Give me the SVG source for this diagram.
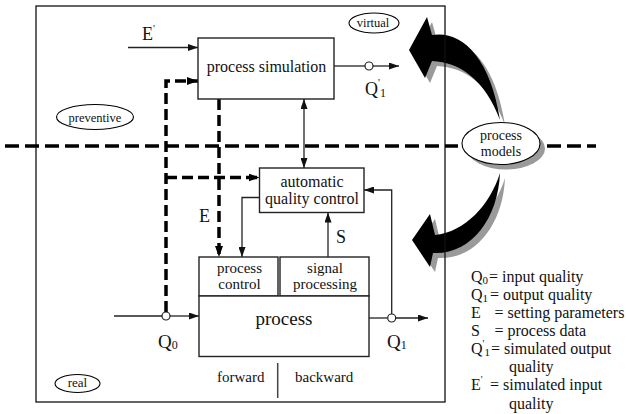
<svg xmlns="http://www.w3.org/2000/svg" width="626" height="414" viewBox="0 0 626 414">
  <defs>
    <style>
      text { font-family: "Liberation Serif", "Times New Roman", serif; fill: #111; }
      .box { fill: #fff; stroke: #222; stroke-width: 1.4; }
      .wire { fill: none; stroke: #222; stroke-width: 1.3; }
      .dash { fill: none; stroke: #000; stroke-width: 3.5; stroke-dasharray: 11 5; }
      .divider { fill: none; stroke: #000; stroke-width: 3.5; stroke-dasharray: 14 6; }
      .tap { fill: #fff; stroke: #222; stroke-width: 1.2; }
      .tag { fill: #fff; stroke: #000; stroke-width: 1.1; }
      .c { text-anchor: middle; }
      .bend { fill: #000; }
      .bend-shadow { fill: #9a9a9a; }
    </style>
    <marker id="head" markerUnits="userSpaceOnUse" markerWidth="10" markerHeight="7" refX="10" refY="3.5" orient="auto-start-reverse">
      <path d="M0,0 L10,3.5 L0,7 Z" fill="#111"/>
    </marker>
    <marker id="head-bold" markerUnits="userSpaceOnUse" markerWidth="11" markerHeight="8" refX="11" refY="4" orient="auto">
      <path d="M0,0 L11,4 L0,8 Z" fill="#000"/>
    </marker>
  </defs>

  <!-- curved "process models" arrows with drop shadows -->
  <g id="model-arrows">
    <path class="bend-shadow" transform="translate(5,5)" d="M409,50 L427,17 L432,35 C460,30 490,55 500,120 C485,80 460,62 432,61 L425,78 Z"/>
    <path class="bend-shadow" transform="translate(5,5)" d="M412,240 L430,214 L435,235 C465,232 490,205 500,173 C498,220 470,255 433,253 L430,267 Z"/>
    <path class="bend" d="M409,50 L427,17 L432,35 C460,30 490,55 500,120 C485,80 460,62 432,61 L425,78 Z"/>
    <path class="bend" d="M412,240 L430,214 L435,235 C465,232 490,205 500,173 C498,220 470,255 433,253 L430,267 Z"/>
  </g>

  <!-- outer frame -->
  <rect id="frame" x="36" y="6" width="409" height="396" fill="none" stroke="#111" stroke-width="1.3"/>

  <!-- virtual / real split -->
  <g id="divider">
    <path class="divider" d="M5,146 H458"/>
    <path class="divider" d="M547,146 H596"/>
  </g>

  <g id="connectors">
    <!-- E' into simulation -->
    <path class="wire" d="M128,47.5 H198" marker-end="url(#head)"/>
    <!-- simulated output Q'1 -->
    <path class="wire" d="M334,66 H365"/>
    <circle class="tap" cx="369" cy="66" r="4"/>
    <path class="wire" d="M373,66 H399" marker-end="url(#head)"/>
    <!-- Q0 tap feeding simulation and quality control -->
    <path class="dash" d="M166,312 V81 H198" marker-end="url(#head-bold)"/>
    <path class="dash" d="M166,177.5 H259.5" marker-end="url(#head-bold)"/>
    <!-- setting parameters E -->
    <path class="dash" d="M219,99 V257" marker-end="url(#head-bold)"/>
    <!-- simulation <-> quality control -->
    <path class="wire" d="M304,99 V168" marker-start="url(#head)" marker-end="url(#head)"/>
    <!-- quality control -> process control -->
    <path class="wire" d="M259.5,197.5 H242 V257" marker-end="url(#head)"/>
    <!-- S : signal processing -> quality control -->
    <path class="wire" d="M328,257 V212.5" marker-end="url(#head)"/>
    <!-- Q1 feedback -->
    <path class="wire" d="M391.7,314 V190 H364" marker-end="url(#head)"/>
    <!-- process input Q0 -->
    <path class="wire" d="M114,316 H162"/>
    <circle class="tap" cx="166" cy="316" r="4"/>
    <path class="wire" d="M170,316 H199" marker-end="url(#head)"/>
    <!-- process output Q1 -->
    <path class="wire" d="M369,318 H387.7"/>
    <circle class="tap" cx="391.7" cy="318" r="4"/>
    <path class="wire" d="M395.7,318 H428" marker-end="url(#head)"/>
    <!-- forward | backward separator -->
    <path d="M277.7,363 V398" stroke="#444" stroke-width="1.5"/>
  </g>

  <g id="process-simulation">
    <rect class="box" x="198" y="38" width="136" height="61"/>
    <text class="c" x="266.5" y="72" font-size="16">process simulation</text>
  </g>

  <g id="automatic-quality-control">
    <rect class="box" x="259.5" y="168" width="104.5" height="44.5"/>
    <text class="c" x="312" y="186.5" font-size="16">automatic</text>
    <text class="c" x="312" y="203.5" font-size="16">quality control</text>
  </g>

  <g id="process-control">
    <rect class="box" x="199" y="257" width="79" height="39"/>
    <text class="c" x="239.5" y="273" font-size="15">process</text>
    <text class="c" x="239.5" y="289" font-size="15">control</text>
  </g>

  <g id="signal-processing">
    <rect class="box" x="280" y="257" width="89" height="39"/>
    <text class="c" x="325" y="273" font-size="15">signal</text>
    <text class="c" x="325" y="289" font-size="15">processing</text>
  </g>

  <g id="process">
    <rect class="box" x="199" y="296" width="170" height="60.5"/>
    <text class="c" x="284" y="325" font-size="19">process</text>
  </g>

  <g id="labels">
    <text x="142" y="40" font-size="18">E<tspan font-size="11" dy="-8">'</tspan></text>
    <text x="365" y="95" font-size="18">Q<tspan font-size="11" dy="-9">'</tspan><tspan font-size="12" dy="11">1</tspan></text>
    <text x="199" y="222" font-size="18">E</text>
    <text x="336" y="243" font-size="18">S</text>
    <text x="158" y="347.5" font-size="19">Q<tspan font-size="12" dy="1.5">0</tspan></text>
    <text x="387" y="347.5" font-size="19">Q<tspan font-size="12" dy="1.5">1</tspan></text>
    <text x="217" y="381.5" font-size="15">forward</text>
    <text x="295" y="381.5" font-size="15">backward</text>
  </g>

  <g id="virtual">
    <ellipse class="tag" cx="374" cy="23" rx="25" ry="10"/>
    <text class="c" x="373" y="27" font-size="12.5">virtual</text>
  </g>

  <g id="preventive">
    <ellipse class="tag" cx="95" cy="117" rx="38.5" ry="12.5"/>
    <text class="c" x="95" y="121.5" font-size="12.5">preventive</text>
  </g>

  <g id="real">
    <ellipse class="tag" cx="77.5" cy="383.5" rx="22.5" ry="9"/>
    <text class="c" x="77.5" y="387" font-size="13">real</text>
  </g>

  <g id="process-models">
    <ellipse cx="506" cy="148.5" rx="39" ry="21" fill="#9a9a9a"/>
    <ellipse class="tag" cx="501" cy="143.5" rx="39" ry="21"/>
    <text class="c" x="501" y="140" font-size="14">process</text>
    <text class="c" x="501" y="155.5" font-size="14">models</text>
  </g>

  <g id="legend" font-size="16">
    <text x="471" y="281.5">Q<tspan font-size="11" dy="2">0</tspan><tspan x="489" dy="-2">= input quality</tspan></text>
    <text x="471" y="299.5">Q<tspan font-size="11" dy="2">1</tspan><tspan x="490" dy="-2">= output quality</tspan></text>
    <text x="471" y="317.5">E<tspan x="494.5">= setting parameters</tspan></text>
    <text x="471" y="336">S<tspan x="494.5">= process data</tspan></text>
    <text x="471" y="354">Q<tspan font-size="10" dy="-7">'</tspan><tspan font-size="11" dy="9">1</tspan><tspan x="491" dy="-2">= simulated output</tspan></text>
    <text x="509" y="372">quality</text>
    <text x="471" y="390">E<tspan font-size="10" dy="-7">'</tspan><tspan x="490" dy="7">= simulated input</tspan></text>
    <text x="509" y="408.5">quality</text>
  </g>
</svg>
